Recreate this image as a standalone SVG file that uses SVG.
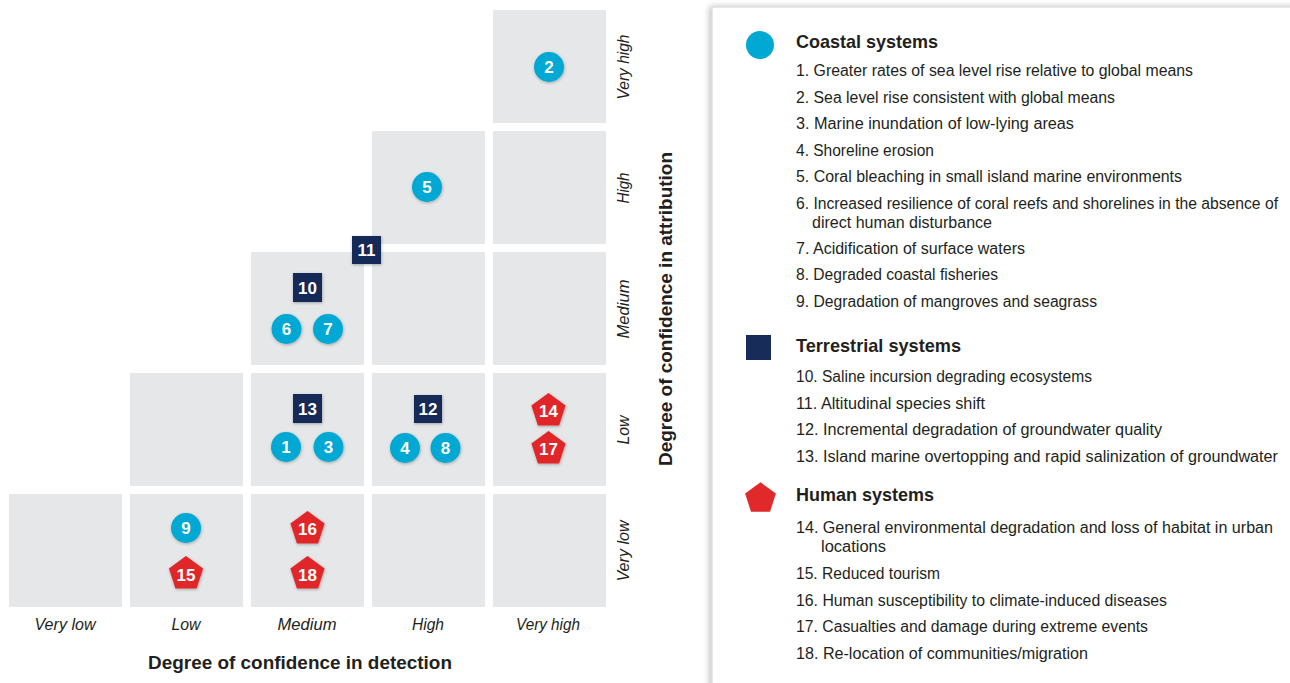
<svg xmlns="http://www.w3.org/2000/svg" width="1290" height="683" viewBox="0 0 1290 683">
<style>
text{font-family:"Liberation Sans",Arial,sans-serif;fill:#231f20}
.cell{fill:#e6e7e8}
.ax{font-size:17px;font-style:italic;text-anchor:middle}
.ttl{font-size:19px;font-weight:bold;text-anchor:middle}
.num{font-size:17px;font-weight:bold;fill:#fff;text-anchor:middle}
.c{fill:#00a9d3}
.t{fill:#172c58}
.h{fill:#e1282a}
.hd{font-size:19px;font-weight:bold}
.it{font-size:16px}
</style>
<defs>
<filter id="sh" x="-40%" y="-40%" width="180%" height="180%">
<feDropShadow dx="0.5" dy="1" stdDeviation="1.5" flood-color="#000" flood-opacity="0.3"/>
</filter>
<filter id="bs" x="-5%" y="-5%" width="110%" height="110%">
<feDropShadow dx="-2" dy="0" stdDeviation="3" flood-color="#000" flood-opacity="0.25"/>
</filter>
<polygon id="pent" points="0,-18 17.1,-5.6 10.6,14.6 -10.6,14.6 -17.1,-5.6"/>
</defs>
<rect width="1290" height="683" fill="#fff"/>

<g id="grid">
<rect class="cell" x="493" y="10" width="113" height="113"/>
<rect class="cell" x="372" y="131" width="113" height="113"/>
<rect class="cell" x="493" y="131" width="113" height="113"/>
<rect class="cell" x="251" y="252" width="113" height="113"/>
<rect class="cell" x="372" y="252" width="113" height="113"/>
<rect class="cell" x="493" y="252" width="113" height="113"/>
<rect class="cell" x="130" y="373" width="113" height="113"/>
<rect class="cell" x="251" y="373" width="113" height="113"/>
<rect class="cell" x="372" y="373" width="113" height="113"/>
<rect class="cell" x="493" y="373" width="113" height="113"/>
<rect class="cell" x="9" y="494" width="113" height="113"/>
<rect class="cell" x="130" y="494" width="113" height="113"/>
<rect class="cell" x="251" y="494" width="113" height="113"/>
<rect class="cell" x="372" y="494" width="113" height="113"/>
<rect class="cell" x="493" y="494" width="113" height="113"/>
</g>

<g id="axis-x">
<text class="ax" x="65" y="630" textLength="61" lengthAdjust="spacingAndGlyphs">Very low</text>
<text class="ax" x="186" y="630" textLength="29" lengthAdjust="spacingAndGlyphs">Low</text>
<text class="ax" x="307" y="630" textLength="59" lengthAdjust="spacingAndGlyphs">Medium</text>
<text class="ax" x="428" y="630" textLength="32" lengthAdjust="spacingAndGlyphs">High</text>
<text class="ax" x="548" y="630" textLength="64" lengthAdjust="spacingAndGlyphs">Very high</text>
<text class="ttl" x="300" y="669" textLength="304" lengthAdjust="spacingAndGlyphs">Degree of confidence in detection</text>
</g>

<g id="axis-y">
<text class="ax" transform="translate(629,67) rotate(-90)" textLength="65" lengthAdjust="spacingAndGlyphs">Very high</text>
<text class="ax" transform="translate(629,188) rotate(-90)" textLength="31" lengthAdjust="spacingAndGlyphs">High</text>
<text class="ax" transform="translate(629,309) rotate(-90)" textLength="59" lengthAdjust="spacingAndGlyphs">Medium</text>
<text class="ax" transform="translate(629,430) rotate(-90)" textLength="29" lengthAdjust="spacingAndGlyphs">Low</text>
<text class="ax" transform="translate(629,551) rotate(-90)" textLength="61" lengthAdjust="spacingAndGlyphs">Very low</text>
<text class="ttl" transform="translate(672,309) rotate(-90)" textLength="314" lengthAdjust="spacingAndGlyphs">Degree of confidence in attribution</text>
</g>

<g id="connectors"/>

<g id="n2"><circle class="c" cx="549" cy="67" r="15" filter="url(#sh)"/><text class="num" x="549" y="73">2</text></g>
<g id="n5"><circle class="c" cx="427" cy="187" r="15" filter="url(#sh)"/><text class="num" x="427" y="193">5</text></g>
<g id="n11"><rect class="t" x="352" y="236" width="29" height="28" filter="url(#sh)"/><text class="num" x="366.5" y="256">11</text></g>
<g id="n10"><rect class="t" x="293" y="273" width="29" height="29" filter="url(#sh)"/><text class="num" x="307.5" y="293.5">10</text></g>
<g id="n6"><circle class="c" cx="286.5" cy="329" r="15" filter="url(#sh)"/><text class="num" x="286.5" y="335">6</text></g>
<g id="n7"><circle class="c" cx="328" cy="329" r="15" filter="url(#sh)"/><text class="num" x="328" y="335">7</text></g>
<g id="n13"><rect class="t" x="293" y="394" width="29" height="29" filter="url(#sh)"/><text class="num" x="307.5" y="414.5">13</text></g>
<g id="n1"><circle class="c" cx="286" cy="447" r="15" filter="url(#sh)"/><text class="num" x="286" y="453">1</text></g>
<g id="n3"><circle class="c" cx="328.5" cy="447" r="15" filter="url(#sh)"/><text class="num" x="328.5" y="453">3</text></g>
<g id="n12"><rect class="t" x="414" y="395" width="28" height="28" filter="url(#sh)"/><text class="num" x="428" y="415">12</text></g>
<g id="n4"><circle class="c" cx="405" cy="448" r="15" filter="url(#sh)"/><text class="num" x="405" y="454">4</text></g>
<g id="n8"><circle class="c" cx="445.5" cy="448" r="15" filter="url(#sh)"/><text class="num" x="445.5" y="454">8</text></g>
<g id="n14"><use href="#pent" class="h" x="548.5" y="411" filter="url(#sh)"/><text class="num" x="548.5" y="417">14</text></g>
<g id="n17"><use href="#pent" class="h" x="548.5" y="449" filter="url(#sh)"/><text class="num" x="548.5" y="455">17</text></g>
<g id="n9"><circle class="c" cx="186" cy="528" r="15" filter="url(#sh)"/><text class="num" x="186" y="534">9</text></g>
<g id="n15"><use href="#pent" class="h" x="186" y="574" filter="url(#sh)"/><text class="num" x="186" y="581">15</text></g>
<g id="n16"><use href="#pent" class="h" x="307.5" y="529" filter="url(#sh)"/><text class="num" x="307.5" y="535">16</text></g>
<g id="n18"><use href="#pent" class="h" x="307.5" y="574" filter="url(#sh)"/><text class="num" x="307.5" y="581">18</text></g>

<g id="legend">
<rect x="712" y="7" width="600" height="700" fill="#fff" stroke="#d4d4d4" stroke-width="1" filter="url(#bs)"/>
<circle class="c" cx="760" cy="45" r="14"/>
<text class="hd" x="796" y="48" textLength="142" lengthAdjust="spacingAndGlyphs">Coastal systems</text>
<text class="it" x="796" y="76" textLength="397" lengthAdjust="spacingAndGlyphs">1. Greater rates of sea level rise relative to global means</text>
<text class="it" x="796" y="103" textLength="319" lengthAdjust="spacingAndGlyphs">2. Sea level rise consistent with global means</text>
<text class="it" x="796" y="129" textLength="278" lengthAdjust="spacingAndGlyphs">3. Marine inundation of low-lying areas</text>
<text class="it" x="796" y="156" textLength="138" lengthAdjust="spacingAndGlyphs">4. Shoreline erosion</text>
<text class="it" x="796" y="182" textLength="386" lengthAdjust="spacingAndGlyphs">5. Coral bleaching in small island marine environments</text>
<text class="it" x="796" y="209" textLength="482" lengthAdjust="spacingAndGlyphs">6. Increased resilience of coral reefs and shorelines in the absence of</text>
<text class="it" x="812" y="228" textLength="180" lengthAdjust="spacingAndGlyphs">direct human disturbance</text>
<text class="it" x="796" y="254" textLength="229" lengthAdjust="spacingAndGlyphs">7. Acidification of surface waters</text>
<text class="it" x="796" y="280" textLength="202" lengthAdjust="spacingAndGlyphs">8. Degraded coastal fisheries</text>
<text class="it" x="796" y="307" textLength="301" lengthAdjust="spacingAndGlyphs">9. Degradation of mangroves and seagrass</text>

<rect class="t" x="746" y="335" width="25" height="25"/>
<text class="hd" x="796" y="352" textLength="165" lengthAdjust="spacingAndGlyphs">Terrestrial systems</text>
<text class="it" x="796" y="382" textLength="296" lengthAdjust="spacingAndGlyphs">10. Saline incursion degrading ecosystems</text>
<text class="it" x="796" y="409" textLength="189" lengthAdjust="spacingAndGlyphs">11. Altitudinal species shift</text>
<text class="it" x="796" y="435" textLength="366" lengthAdjust="spacingAndGlyphs">12. Incremental degradation of groundwater quality</text>
<text class="it" x="796" y="462" textLength="482" lengthAdjust="spacingAndGlyphs">13. Island marine overtopping and rapid salinization of groundwater</text>

<use href="#pent" class="h" transform="translate(760.5,498.5) scale(0.9)"/>
<text class="hd" x="796" y="501" textLength="138" lengthAdjust="spacingAndGlyphs">Human systems</text>
<text class="it" x="796" y="533" textLength="477" lengthAdjust="spacingAndGlyphs">14. General environmental degradation and loss of habitat in urban</text>
<text class="it" x="821" y="552" textLength="65" lengthAdjust="spacingAndGlyphs">locations</text>
<text class="it" x="796" y="579" textLength="144" lengthAdjust="spacingAndGlyphs">15. Reduced tourism</text>
<text class="it" x="796" y="606" textLength="371" lengthAdjust="spacingAndGlyphs">16. Human susceptibility to climate-induced diseases</text>
<text class="it" x="796" y="632" textLength="352" lengthAdjust="spacingAndGlyphs">17. Casualties and damage during extreme events</text>
<text class="it" x="796" y="659" textLength="292" lengthAdjust="spacingAndGlyphs">18. Re-location of communities/migration</text>
</g>
</svg>
